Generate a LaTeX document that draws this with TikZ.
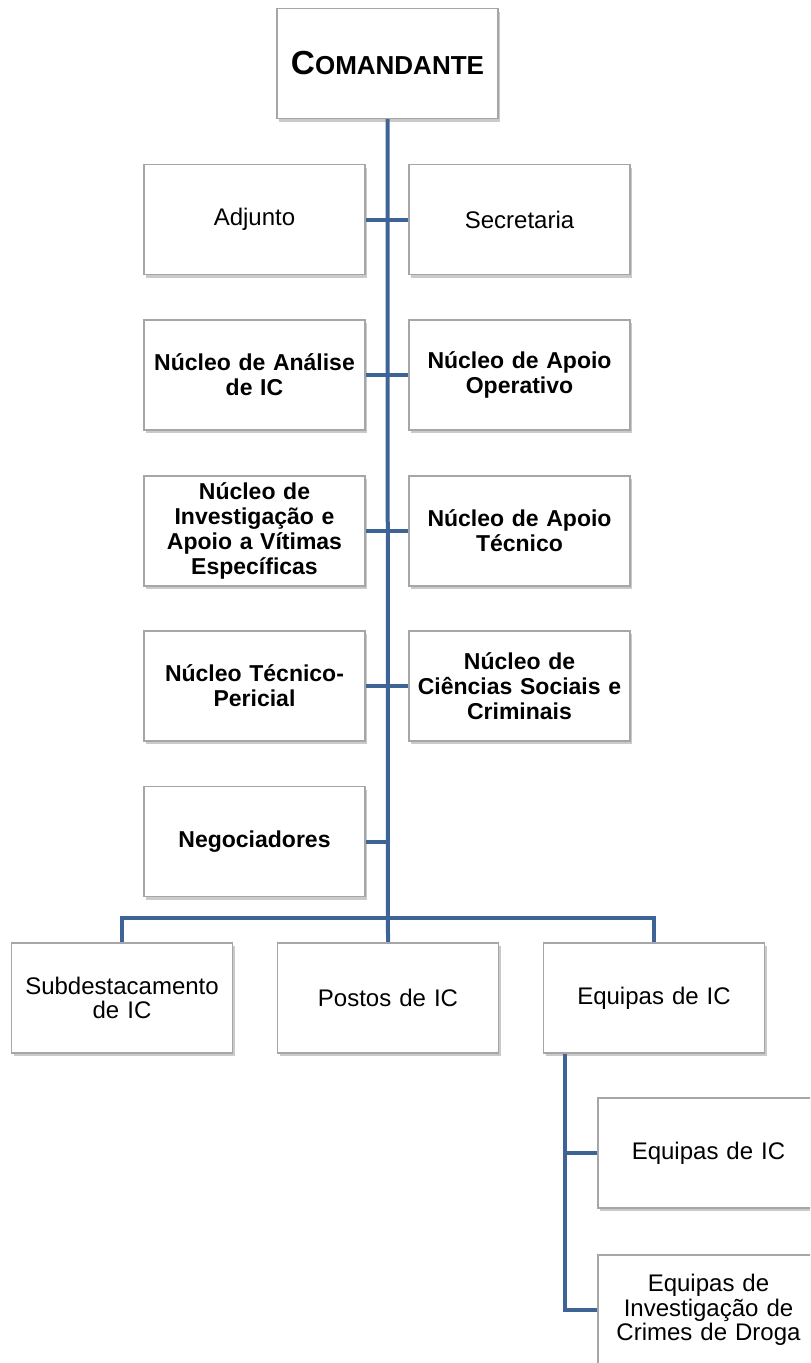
\documentclass[tikz,border=0pt]{standalone}
\usepackage{fontspec}
\setmainfont{Liberation Sans}
\usetikzlibrary{shadows,backgrounds}
\definecolor{linkblue}{HTML}{3E6496}
\definecolor{boxgray}{HTML}{A6A6A6}
\tikzset{
  orgbox/.style={draw=boxgray, line width=1.1pt, fill=white, minimum width=165.75pt, minimum height=82.5pt,
    inner sep=2pt, align=center, text width=160pt,
    drop shadow={opacity=0.35, fill=black!60, shadow xshift=1.5pt, shadow yshift=-2.5pt},
    font=\fontsize{18}{18.5}\selectfont},
  boldbox/.style={orgbox, font=\fontsize{17.25}{18.75}\selectfont\bfseries},
  link/.style={draw=linkblue, line width=3pt}
}
\begin{document}
\begin{tikzpicture}[x=0.75pt,y=-0.75pt]
\useasboundingbox (0,0) rectangle (810,1363);
\clip (0,0) rectangle (810,1363);
\node[boldbox] (cmd) at (387.5,63.5) {{\fontsize{25}{30}\selectfont C}{\fontsize{19.5}{24}\selectfont OMANDANTE}};
\node[orgbox] (adj) at (254.5,219.5) {Adjunto};
\node[orgbox] (sec) at (519.5,219.5) {Secretaria};
\node[boldbox] (nai) at (254.5,375) {Núcleo de Análise\\de IC};
\node[boldbox] (nao) at (519.5,375) {Núcleo de Apoio\\Operativo};
\node[boldbox] (niv) at (254.5,531) {Núcleo de\\Investigação e\\Apoio a Vítimas\\Específicas};
\node[boldbox] (nat) at (519.5,531) {Núcleo de Apoio\\Técnico};
\node[boldbox] (ntp) at (254.5,686) {Núcleo Técnico-\\Pericial};
\node[boldbox] (ncs) at (519.5,686) {Núcleo de\\Ciências Sociais e\\Criminais};
\node[boldbox] (neg) at (254.5,841.5) {Negociadores};
\node[orgbox] (sub) at (122,998) {Subdestacamento\\de IC};
\node[orgbox] (pos) at (388,998) {Postos de IC};
\node[orgbox] (eq) at (654,998) {Equipas de IC};
\node[orgbox] (eq1) at (708.5,1153) {Equipas de IC};
\node[orgbox] (eq2) at (708.5,1310) {Equipas de\\Investigação de\\Crimes de Droga};
\coordinate (bus) at (388,918);
\coordinate (eqx) at (565,1053);
\begin{pgfonlayer}{background}
\draw[link] (cmd.south) -- (pos.north);
\draw[link] (adj.east) -- (sec.west);
\draw[link] (nai.east) -- (nao.west);
\draw[link] (niv.east) -- (nat.west);
\draw[link] (ntp.east) -- (ncs.west);
\draw[link] (neg.east) -- (neg.east -| cmd.south);
\draw[link] (sub.north) |- (bus) -| (eq.north);
\draw[link] (eqx) |- (eq2.west);
\draw[link] (eqx |- eq1.west) -- (eq1.west);
\end{pgfonlayer}
\end{tikzpicture}
\end{document}
